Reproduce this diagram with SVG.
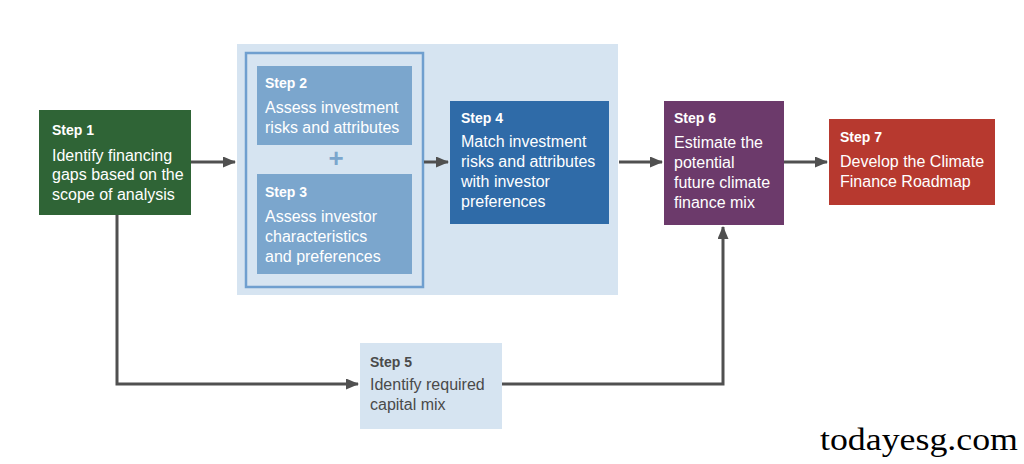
<svg xmlns="http://www.w3.org/2000/svg" width="1024" height="464" viewBox="0 0 1024 464">
<defs>
<marker id="ah" markerWidth="13" markerHeight="11" refX="12" refY="5.5" orient="auto" markerUnits="userSpaceOnUse">
<path d="M0,0 L13,5.5 L0,11 Z" fill="#505050"/>
</marker>
<style>
.t{font-family:"Liberation Sans","Noto Sans",Arial,sans-serif;font-size:16px;fill:#ffffff}
.h{font-family:"Liberation Sans","Noto Sans",Arial,sans-serif;font-size:14px;font-weight:bold;fill:#ffffff}
.d{fill:#4a4a4a}
.c{fill:none;stroke:#505050;stroke-width:3}
</style>
</defs>
<rect width="1024" height="464" fill="#ffffff"/>
<rect id="panel" x="237" y="44" width="381" height="251" fill="#d6e4f1"/>
<rect x="246" y="53" width="177" height="234" fill="none" stroke="#6f9fcf" stroke-width="2.5"/>
<g id="connectors">
<line class="c" x1="191" y1="162" x2="235" y2="162" marker-end="url(#ah)"/>
<line class="c" x1="424" y1="162" x2="448" y2="162" marker-end="url(#ah)"/>
<line class="c" x1="619" y1="162" x2="662" y2="162" marker-end="url(#ah)"/>
<line class="c" x1="784" y1="162" x2="827" y2="162" marker-end="url(#ah)"/>
<polyline class="c" points="117,215 117,384 358,384" marker-end="url(#ah)"/>
<polyline class="c" points="502,384 723,384 723,227" marker-end="url(#ah)"/>
</g>
<g id="step1">
<rect x="39" y="110" width="152" height="105" fill="#2f6436"/>
<text class="h" x="52" y="135">Step 1</text>
<text class="t" x="52" y="160.5">Identify financing</text>
<text class="t" x="52" y="180">gaps based on the</text>
<text class="t" x="52" y="199.5">scope of analysis</text>
</g>
<g id="step2">
<rect x="257" y="66" width="155" height="79" fill="#7ba6cd"/>
<text class="h" x="265" y="88">Step 2</text>
<text class="t" x="265" y="113">Assess investment</text>
<text class="t" x="265" y="133">risks and attributes</text>
</g>
<text id="plus" x="336" y="167" text-anchor="middle" font-family="Liberation Sans, sans-serif" font-size="26" font-weight="bold" fill="#7ba6cd">+</text>
<g id="step3">
<rect x="257" y="174" width="155" height="100" fill="#7ba6cd"/>
<text class="h" x="265" y="197">Step 3</text>
<text class="t" x="265" y="222">Assess investor</text>
<text class="t" x="265" y="242">characteristics</text>
<text class="t" x="265" y="262">and preferences</text>
</g>
<g id="step4">
<rect x="450" y="101" width="159" height="123" fill="#2f6ba8"/>
<text class="h" x="461" y="123">Step 4</text>
<text class="t" x="461" y="147">Match investment</text>
<text class="t" x="461" y="167">risks and attributes</text>
<text class="t" x="461" y="187">with investor</text>
<text class="t" x="461" y="207">preferences</text>
</g>
<g id="step6">
<rect x="664" y="101" width="120" height="124" fill="#6c3a6b"/>
<text class="h" x="674" y="123">Step 6</text>
<text class="t" x="674" y="148">Estimate the</text>
<text class="t" x="674" y="168">potential</text>
<text class="t" x="674" y="188">future climate</text>
<text class="t" x="674" y="208">finance mix</text>
</g>
<g id="step7">
<rect x="829" y="119" width="166" height="86" fill="#b7392f"/>
<text class="h" x="840" y="142">Step 7</text>
<text class="t" x="840" y="167">Develop the Climate</text>
<text class="t" x="840" y="187">Finance Roadmap</text>
</g>
<g id="step5">
<rect x="360" y="343" width="142" height="86" fill="#d6e4f1"/>
<text class="h d" x="370" y="367">Step 5</text>
<text class="t d" x="370" y="390">Identify required</text>
<text class="t d" x="370" y="410">capital mix</text>
</g>
<text id="watermark" x="820" y="450" font-family="Liberation Serif, serif" font-size="31" fill="#000000" textLength="198" lengthAdjust="spacingAndGlyphs">todayesg.com</text>
</svg>
